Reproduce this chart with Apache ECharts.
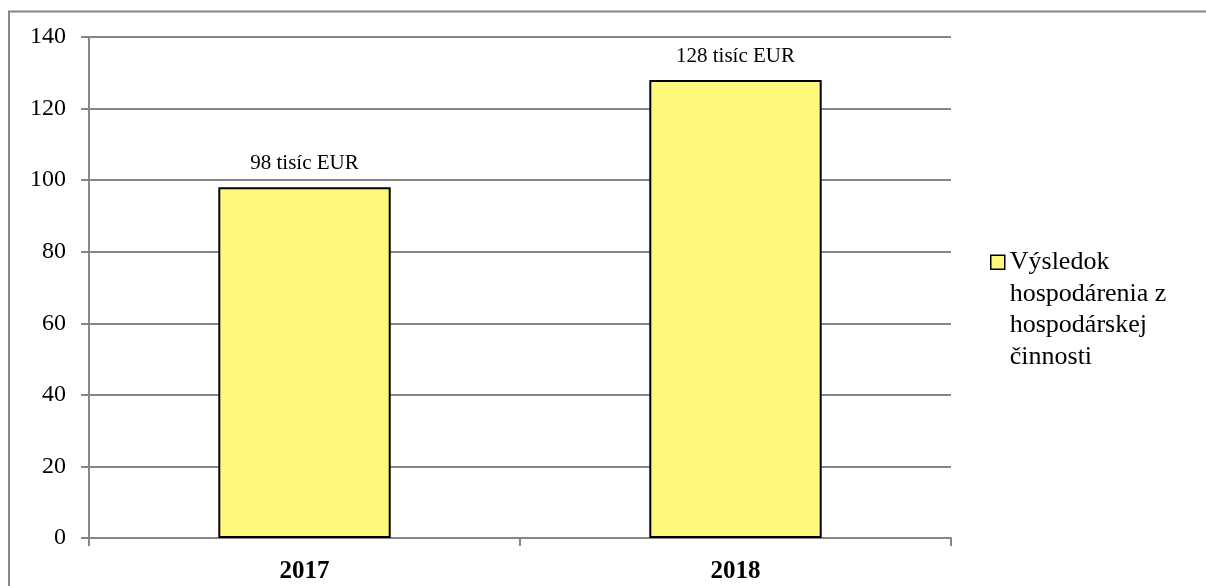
<!DOCTYPE html>
<html>
<head>
<meta charset="utf-8">
<script src="https://cdn.jsdelivr.net/npm/echarts@6/dist/echarts.min.js"></script>
<style>
html,body{margin:0;padding:0;background:#fff;}
#chart{width:1206px;height:586px;}
</style>
</head>
<body>
<div id="chart"></div>
<script>
const categories = ['2017', '2018'];
const values = [98, 128];
const valueLabels = ['98 tisíc EUR', '128 tisíc EUR'];
const seriesName = 'Výsledok\nhospodárenia z\nhospodárskej\nčinnosti';
const yMin = 0, yMax = 140, yInterval = 20;

const chart = echarts.init(document.getElementById('chart'));
const font = '"Liberation Serif", "Times New Roman", serif';
const grey = '#868686';
chart.setOption({
  animation: false,
  textStyle: { fontFamily: font },
  graphic: [{
    type: 'rect', silent: true, z: -1,
    shape: { x: 9, y: 11.5, width: 1300, height: 700 },
    style: { fill: 'none', stroke: grey, lineWidth: 2 }
  }],
  grid: { left: 89, top: 37, right: 255, bottom: 48, containLabel: false },
  legend: {
    show: true,
    left: 990, top: 152,
    padding: 0,
    orient: 'vertical',
    icon: 'rect',
    itemWidth: 14, itemHeight: 14,
    itemStyle: { borderColor: '#000', borderWidth: 1.5 },
    formatter: name => '\n\n\n' + name,
    textStyle: { fontFamily: font, fontSize: 26, color: '#000', lineHeight: 31.5 },
    data: [seriesName]
  },
  xAxis: {
    type: 'category',
    data: categories,
    axisLine: { lineStyle: { color: grey, width: 2 } },
    axisTick: { show: true, length: 8, lineStyle: { color: grey, width: 2 } },
    axisLabel: { fontFamily: font, fontSize: 25, fontWeight: 'bold', color: '#000', margin: 21 }
  },
  yAxis: {
    type: 'value',
    min: yMin, max: yMax, interval: yInterval,
    axisLine: { show: true, lineStyle: { color: grey, width: 2 } },
    axisTick: { show: true, length: 8, lineStyle: { color: grey, width: 2 } },
    axisLabel: { fontFamily: font, fontSize: 24, color: '#000', margin: 23 },
    splitLine: { show: true, lineStyle: { color: grey, width: 2 } }
  },
  series: [{
    name: seriesName,
    type: 'bar',
    data: values,
    barWidth: '40%',
    itemStyle: { color: '#FEF97C', borderColor: '#000', borderWidth: 2 },
    label: {
      show: true, position: 'top', distance: 13,
      fontFamily: font, fontSize: 21, color: '#000',
      formatter: p => valueLabels[p.dataIndex]
    }
  }]
});
</script>
</body>
</html>
